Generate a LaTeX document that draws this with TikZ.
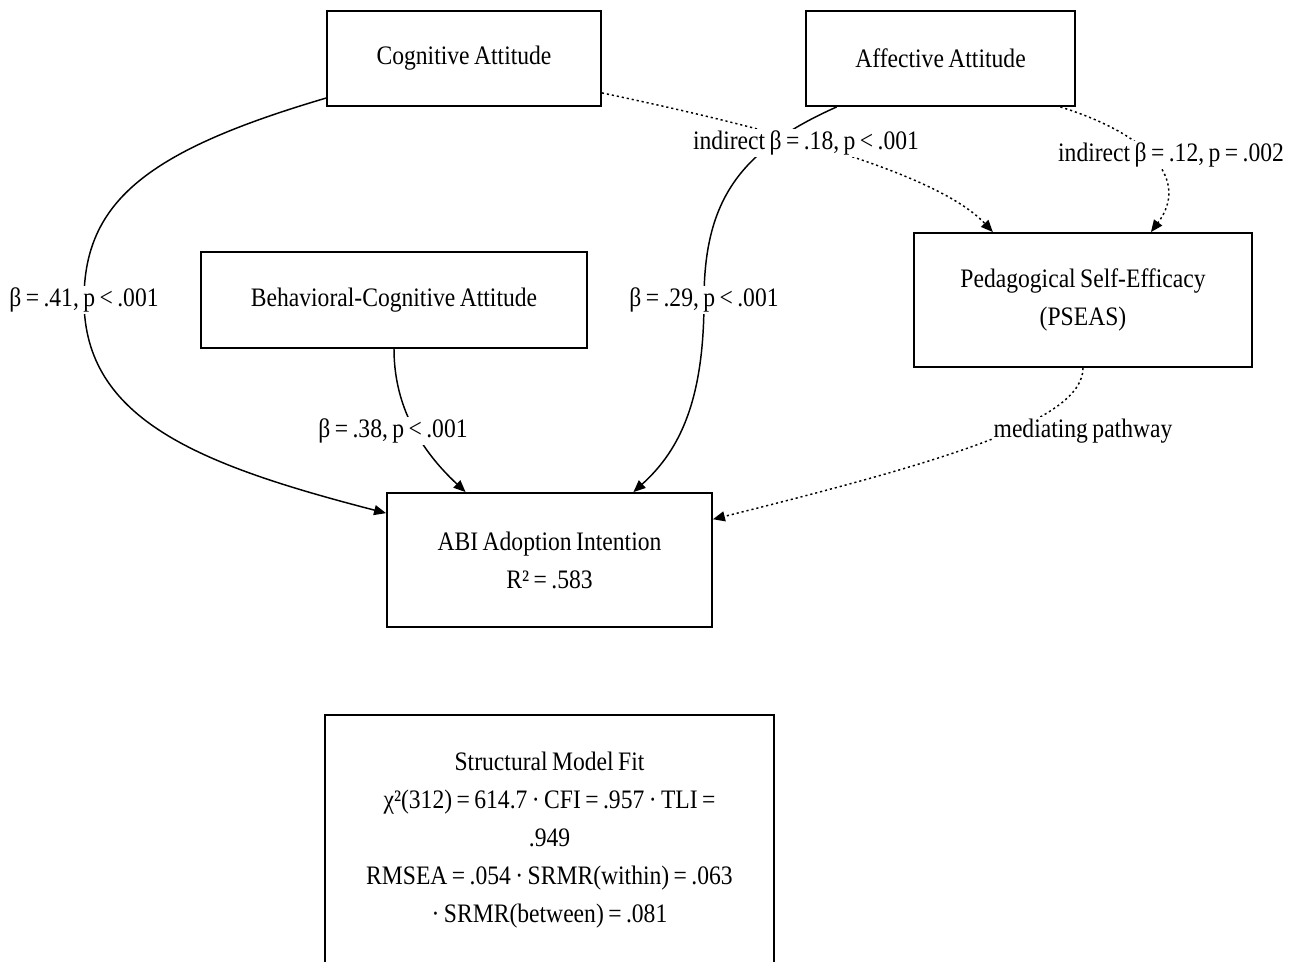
\documentclass[tikz,border=0pt]{standalone}
\usepackage{fontspec}
\setmainfont{Liberation Serif}[FakeStretch=0.885, WordSpace=0.75]
\usetikzlibrary{arrows.meta,backgrounds}

\begin{document}
\begin{tikzpicture}[x=0.75pt, y=-0.75pt,
  every node/.style={font=\fontsize{20}{28.5}\selectfont},
  box/.style={draw, line width=1.4pt, inner sep=0pt, align=center},
  lbl/.style={fill=white, inner sep=1.5pt},
  eff/.style={line width=1.1pt, -{Triangle[length=9pt,width=7.5pt]}},
  ind/.style={eff, dash pattern=on 1.6pt off 2.2pt}]

\useasboundingbox (0,0) rectangle (1301,961);

% constructs
\node[box, minimum width=205.5pt, minimum height=71.25pt] (cog) at (464,58.5) {Cognitive Attitude};
\node[box, minimum width=201.75pt, minimum height=71.25pt] (aff) at (940.5,58.5) {Affective Attitude};
\node[box, minimum width=289.5pt, minimum height=72pt] (beh) at (394,300) {Behavioral-Cognitive Attitude};
\node[box, minimum width=253.5pt, minimum height=100.5pt] (pseas) at (1083,300) {Pedagogical Self-Efficacy\\(PSEAS)};
\node[box, minimum width=243.75pt, minimum height=100.5pt] (abi) at (549.5,560) {ABI Adoption Intention\\R² = .583};
\node[box, minimum width=336.75pt, minimum height=187.5pt] (fit) at (549.5,840) {Structural Model Fit\\χ²(312) = 614.7 · CFI = .957 · TLI =\\.949\\RMSEA = .054 · SRMR(within) = .063\\· SRMR(between) = .081};

% path labels
\node[lbl] (l41) at (84,300) {β = .41, p < .001};
\node[lbl] (l18) at (806,143) {indirect β = .18, p < .001};
\node[lbl] (l12) at (1171,155) {indirect β = .12, p = .002};
\node[lbl] (l29) at (704,300) {β = .29, p < .001};
\node[lbl] (l38) at (393,431) {β = .38, p < .001};
\node[lbl] (lmed) at (1083,431) {mediating pathway};

% paths
\begin{scope}[on background layer]
\draw[eff] (cog.196) .. controls (150,150) and (84,200) .. (l41.center)
  .. controls (84,420) and (200,465) .. (abi.164);
\draw[eff] (aff.205) .. controls (740,150) and (704,200) .. (l29.center)
  .. controls (704,400) and (680,450) .. (abi.39);
\draw[eff] (beh.south) .. controls (394,400) and (415,445) .. (abi.141);
\draw[ind] (cog.-14) .. controls (720,118) and (930,165) .. (pseas.143);
\draw[ind] (aff.-22) .. controls (1150,135) and (1190,180) .. (pseas.45);
\draw[ind] (pseas.south) .. controls (1083,420) and (950,460) .. (abi.14.5);
\end{scope}
\end{tikzpicture}
\end{document}
